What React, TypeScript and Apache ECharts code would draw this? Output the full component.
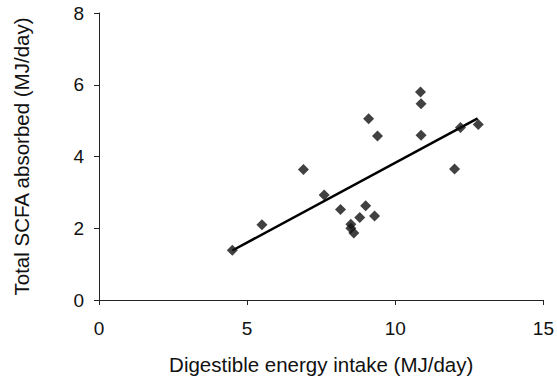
import React, { useEffect, useRef } from "react";
import * as echarts from "echarts";

const intakeX = [4.5, 5.5, 6.9, 7.6, 8.15, 8.5, 8.5, 8.6, 8.8, 9.0, 9.1, 9.3, 9.4, 10.85, 10.87, 10.87, 12.0, 12.2, 12.8];
const scfaY = [1.39, 2.1, 3.64, 2.93, 2.52, 2.11, 2.0, 1.87, 2.3, 2.63, 5.05, 2.34, 4.57, 5.8, 5.47, 4.59, 3.65, 4.81, 4.89];
const trendX = [4.5, 12.78];
const trendY = [1.38, 5.06];
const xTicks = [0, 5, 10, 15];
const yTicks = [0, 2, 4, 6, 8];

const FONT = "Liberation Sans, Arial, Helvetica, sans-serif";

export default function App() {
  const ref = useRef<HTMLDivElement>(null);
  useEffect(() => {
    if (!ref.current) return;
    const chart = echarts.init(ref.current, undefined, { renderer: "svg" });
    const points = intakeX.map((x, i) => [x, scfaY[i]]);
    const trend = trendX.map((x, i) => [x, trendY[i]]);
    chart.setOption({
      animation: false,
      backgroundColor: "#ffffff",
      grid: { left: 99, right: 11, top: 13, bottom: 78, containLabel: false },
      xAxis: {
        type: "value",
        min: xTicks[0],
        max: xTicks[xTicks.length - 1],
        interval: 5,
        name: "Digestible energy intake (MJ/day)",
        nameLocation: "middle",
        nameGap: 54,
        nameTextStyle: { fontFamily: FONT, fontSize: 20.5, color: "#111" },
        axisLine: { lineStyle: { color: "#222", width: 1 } },
        axisTick: { show: true, length: 5, lineStyle: { color: "#222" } },
        axisLabel: { fontFamily: FONT, fontSize: 19, color: "#111", margin: 19 },
        splitLine: { show: false },
      },
      yAxis: {
        type: "value",
        min: yTicks[0],
        max: yTicks[yTicks.length - 1],
        interval: 2,
        name: "Total SCFA absorbed (MJ/day)",
        nameLocation: "middle",
        nameGap: 67,
        nameTextStyle: { fontFamily: FONT, fontSize: 20.5, color: "#111" },
        axisLine: { show: true, lineStyle: { color: "#222", width: 1 } },
        axisTick: { show: true, length: 5, lineStyle: { color: "#222" } },
        axisLabel: { fontFamily: FONT, fontSize: 19, color: "#111", margin: 15 },
        splitLine: { show: false },
      },
      series: [
        {
          type: "line",
          data: trend,
          symbol: "none",
          lineStyle: { color: "#000", width: 2.5 },
          z: 2,
        },
        {
          type: "scatter",
          data: points,
          symbol: "diamond",
          symbolSize: 11,
          itemStyle: { color: "#111" },
          z: 3,
        },
      ],
    });
    return () => chart.dispose();
  }, []);
  return (
    <div
      ref={ref}
      style={{ position: "fixed", left: 0, top: 0, width: 557, height: 380, background: "#fff" }}
    />
  );
}
